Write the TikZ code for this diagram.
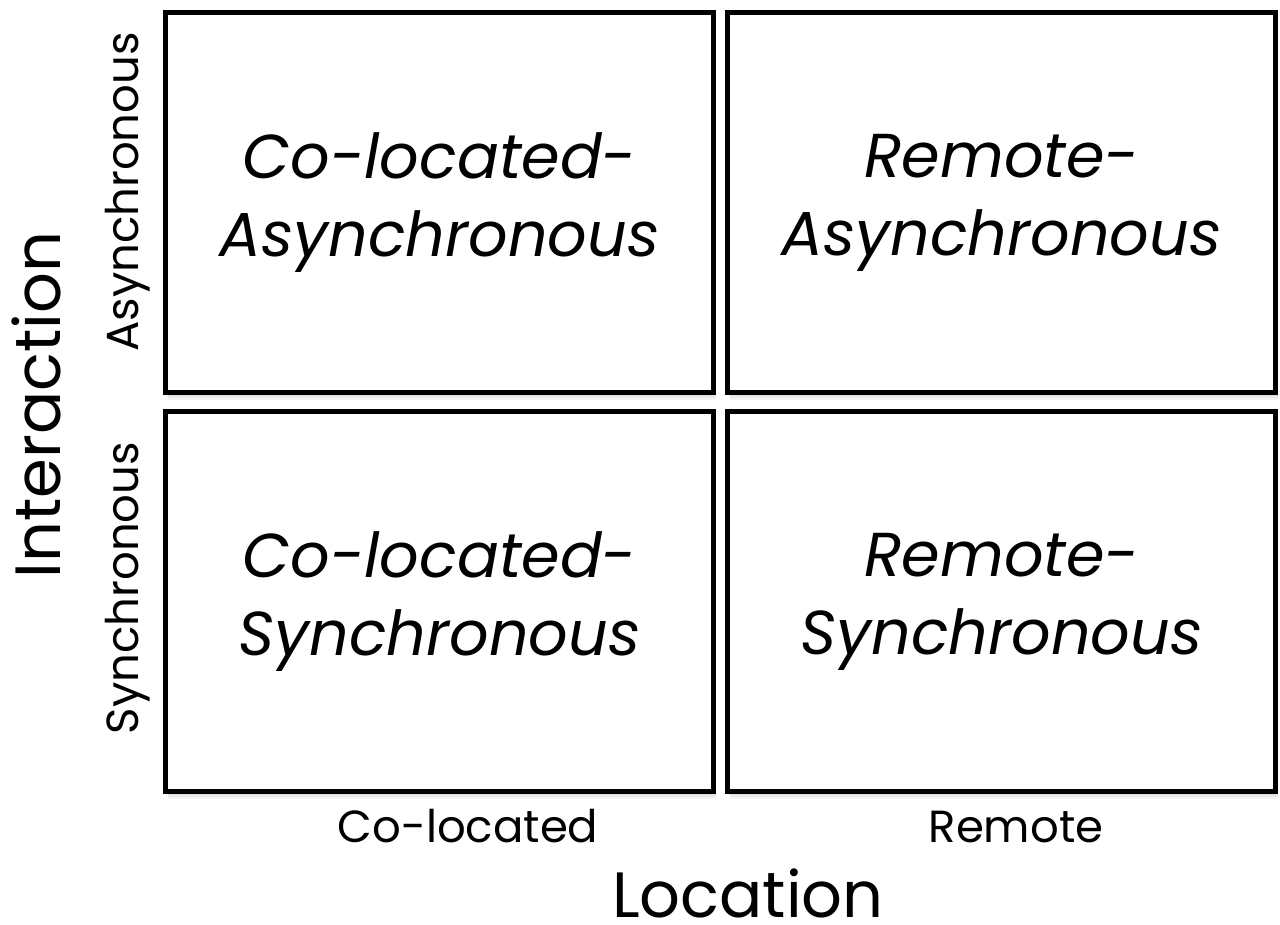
\documentclass[tikz,border=0pt]{standalone}
\usepackage{fontspec}
\newfontfamily\gothic{Poppins}
\begin{document}
\begin{tikzpicture}[x=1pt,y=-1pt,
  cell/.style={draw=black,line width=5pt,fill=white,minimum width=548pt,minimum height=380pt,inner sep=0pt,anchor=center},
  celltext/.style={font=\gothic\itshape\fontsize{62}{78}\selectfont,align=center},
  tick/.style={font=\gothic\fontsize{45}{50}\selectfont,anchor=base,inner sep=0pt},
  axis/.style={font=\gothic\fontsize{64}{70}\selectfont,anchor=base,inner sep=0pt}]
\useasboundingbox (0,0) rectangle (1280,925);
% soft shadows under the four cells
\foreach \cx/\cy in {439.5/202.5,1001.5/202.5,439.5/601.5,1001.5/601.5}{
  \foreach \d in {1,3,5,7}
    \fill[black,opacity=0.045] (\cx-274+\d*0.4,\cy-190+\d) rectangle (\cx+274+\d*0.4,\cy+190+\d);
}
% quadrant cells
\node[cell] (ca) at (439.5,202.5) {};
\node[cell] (ra) at (1001.5,202.5) {};
\node[cell] (cs) at (439.5,601.5) {};
\node[cell] (rs) at (1001.5,601.5) {};
\node[celltext] (tca) at (ca) {Co-located-\\Asynchronous};
\node[celltext] (tra) at (ra) {Remote-\\Asynchronous};
\node[celltext] (tcs) at (cs) {Co-located-\\Synchronous};
\node[celltext] (trs) at (rs) {Remote-\\Synchronous};
% axis ticks and titles
\node[tick,rotate=90] (lasync) at (138,192) {Asynchronous};
\node[tick,rotate=90] (lsync) at (138,588) {Synchronous};
\node[axis,rotate=90] (linter) at (60,405) {Interaction};
\node[tick] (lcoloc) at (468,842) {Co-located};
\node[tick] (lremote) at (1016,842) {Remote};
\node[axis,text depth=0pt] (lloc) at (748,917) {Location};
\end{tikzpicture}
\end{document}
